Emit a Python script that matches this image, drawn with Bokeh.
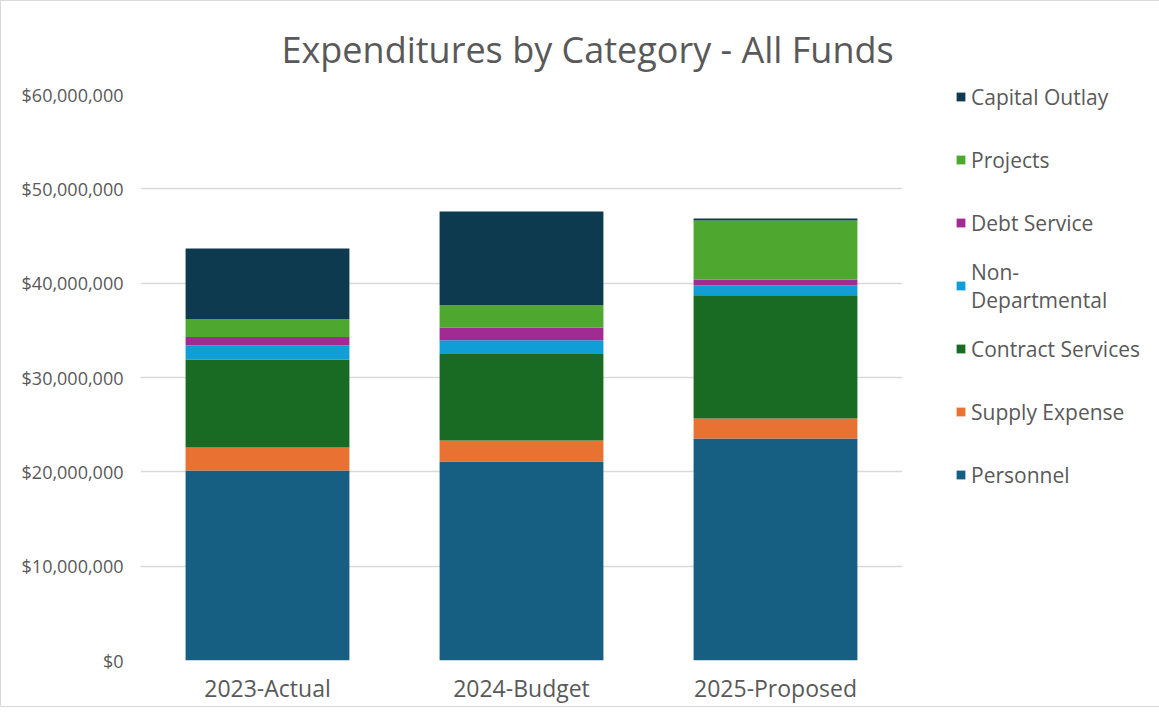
from bokeh.plotting import figure
from bokeh.models import FactorRange, Range1d, NumeralTickFormatter, FixedTicker, Legend, LegendItem
from bokeh.embed import file_html
from bokeh.resources import INLINE

years = ["2023-Actual", "2024-Budget", "2025-Proposed"]
personnel = [20.14e6, 21.10e6, 23.53e6]
supply_expense = [2.44e6, 2.22e6, 2.12e6]
contract_services = [9.32e6, 9.18e6, 13.08e6]
non_departmental = [1.50e6, 1.46e6, 1.02e6]
debt_service = [0.90e6, 1.31e6, 0.64e6]
projects = [1.90e6, 2.40e6, 6.25e6]
capital_outlay = [7.48e6, 9.93e6, 0.22e6]
y_ticks = [0, 10e6, 20e6, 30e6, 40e6, 50e6, 60e6]

series_keys = ["personnel", "supply", "contract", "nondep", "debt", "projects", "capital"]
series_labels = ["Personnel", "Supply Expense", "Contract Services", "Non-\nDepartmental",
                 "Debt Service", "Projects", "Capital Outlay"]
colors = ["#165F82", "#E97132", "#196B24", "#0F9ED5", "#A02B93", "#4EA72E", "#0E3A4F"]

data = dict(years=years, personnel=personnel, supply=supply_expense, contract=contract_services,
            nondep=non_departmental, debt=debt_service, projects=projects, capital=capital_outlay)

FONT = "Open Sans"
GRAY = "#595959"

p = figure(x_range=FactorRange(*years, range_padding=0), y_range=Range1d(0, 60e6),
           frame_width=762, frame_height=566, output_backend="svg", toolbar_location=None,
           min_border_left=139, min_border_right=249, min_border_top=92, min_border_bottom=46)

renderers = p.vbar_stack(series_keys, x="years", width=0.645, color=colors, source=data,
                         line_color=None)

p.title.text = "Expenditures by Category - All Funds"
p.title.align = "left"
p.title.offset = 141
p.title.standoff = 42
p.title.text_font = FONT
p.title.text_font_style = "normal"
p.title.text_font_size = "36px"
p.title.text_color = GRAY

p.outline_line_color = None
p.xgrid.grid_line_color = None
p.ygrid.grid_line_color = "#D9D9D9"
p.ygrid.grid_line_width = 1.3

p.yaxis.ticker = FixedTicker(ticks=y_ticks)
p.yaxis.formatter = NumeralTickFormatter(format="$0,0")
for ax in (p.xaxis, p.yaxis):
    ax.axis_line_color = None
    ax.major_tick_line_color = None
    ax.minor_tick_line_color = None
    ax.major_tick_out = 0
    ax.major_tick_in = 0
    ax.major_label_text_font = FONT
    ax.major_label_text_color = GRAY
p.yaxis.major_label_text_font_size = "18px"
p.yaxis.major_label_standoff = 17
p.xaxis.major_label_text_font_size = "23px"
p.xaxis.major_label_standoff = 11

items = [LegendItem(label=series_labels[i], renderers=[renderers[i]]) for i in range(len(renderers) - 1, -1, -1)]
legend = Legend(items=items, location=(53, 157), orientation="vertical")
legend.margin = 0
legend.padding = 0
legend.border_line_color = None
legend.background_fill_alpha = 0
legend.glyph_width = 11
legend.glyph_height = 11
legend.label_height = 57
legend.label_standoff = 5
legend.spacing = 6
legend.label_text_font = FONT
legend.label_text_font_size = "21px"
legend.label_text_color = GRAY
p.add_layout(legend, "right")

p.styles = {"border": "1px solid #D9D9D9"}

open("out.html", "w").write(file_html(p, INLINE))
